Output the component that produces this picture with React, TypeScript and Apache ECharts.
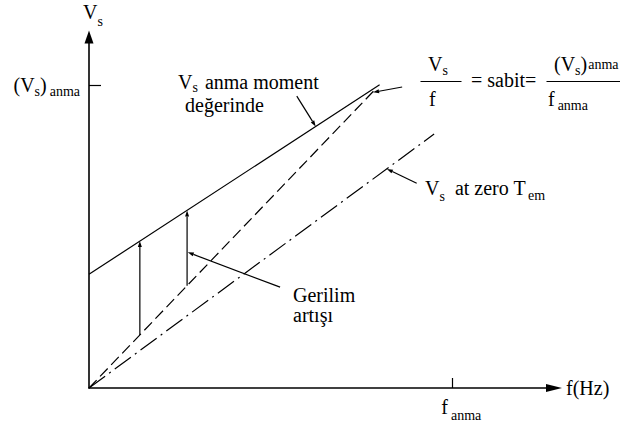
import React, { useEffect, useRef } from 'react';
import * as echarts from 'echarts';

// Rated operating point and axis extents (f in Hz, Vs in V)
const F_ANMA = 50;
const VS_ANMA = 400;
const F_MAX = 64;
const VS_MAX = 463;

// Stator voltage characteristics: [f, Vs]
const ratedTorqueLine = [[0, 150], [40, 400]]; // Vs at rated torque (with boost)
const constantVfLine = [[0, 0], [39.5, 395]]; // Vs / f = constant
const zeroTorqueLine = [[0, 0], [47.5, 335]]; // Vs at zero Tem

// Voltage boost arrows: frequency, from Vs, to Vs
const boostFreqs = [7, 13.5];
const boostFrom = [70, 135];
const boostTo = [194, 234];

// Leader lines [f1, Vs1, f2, Vs2] (arrow at the second point)
const leaderRated = [28.6, 385, 31.2, 345];
const leaderRatio = [43.1, 397, 39.1, 390];
const leaderZero = [45.1, 270, 41.0, 289];
const leaderBoost = [26.3, 133, 13.6, 179];

const FONT = 'Liberation Serif';
const MAIN = 20; // main text size
const SUB = 14; // subscript size

// [text, fontSize, vertical shift, gap before]
type Part = [string, number, number, number?];

let measureCtx: CanvasRenderingContext2D | null = null;
const textWidth = (s: string, size: number) => {
  if (!measureCtx) measureCtx = document.createElement('canvas').getContext('2d');
  if (!measureCtx) return s.length * size * 0.5;
  measureCtx.font = `${size}px "${FONT}", serif`;
  return measureCtx.measureText(s).width;
};

const runWidth = (parts: Part[]) =>
  parts.reduce((w, [t, size, , gap = 0]) => w + gap + textWidth(t, size), 0);

// Lays out a run of text pieces (with subscripts) from a left x and a centre y
const run = (x: number, y: number, parts: Part[]) => {
  let cx = x;
  return parts.map(([t, size, dy, gap = 0]) => {
    cx += gap;
    const el = {
      type: 'text',
      x: cx,
      y: y + dy,
      silent: true,
      style: {
        text: t,
        fontFamily: FONT,
        fontSize: size,
        fill: '#000',
        align: 'left',
        verticalAlign: 'middle',
      },
    };
    cx += textWidth(t, size);
    return el;
  });
};

const bar = (x1: number, x2: number, y: number) => ({
  type: 'line',
  silent: true,
  shape: { x1, y1: y, x2, y2: y },
  style: { stroke: '#000', lineWidth: 1.2 },
});

export default function App() {
  const ref = useRef<HTMLDivElement>(null);

  useEffect(() => {
    document.body.style.margin = '0';
    if (!ref.current) return;
    const chart = echarts.init(ref.current, null, { renderer: 'svg' });

    const arrowData = [
      ...boostFreqs.map((f, i) => [f, boostFrom[i], f, boostTo[i]]),
      leaderRated,
      leaderRatio,
      leaderZero,
      leaderBoost,
    ];

    const lineStyleBase = { color: '#000', width: 1.2 };

    const axisCommon = {
      type: 'value',
      axisLabel: { show: false },
      splitLine: { show: false },
    };

    chart.setOption({
      animation: false,
      backgroundColor: '#fff',
      grid: {
        left: 89,
        bottom: 40,
        width: 465,
        height: 351,
        containLabel: false,
        outerBoundsMode: 'none',
      },
      xAxis: {
        ...axisCommon,
        min: 0,
        max: F_MAX,
        axisLine: {
          show: true,
          onZero: false,
          symbol: ['none', 'triangle'],
          symbolSize: [8, 16],
          lineStyle: { color: '#000', width: 1.6 },
        },
        axisTick: {
          show: true,
          inside: true,
          length: 10,
          customValues: [F_ANMA],
          lineStyle: { color: '#000', width: 1.2 },
        },
      },
      yAxis: {
        ...axisCommon,
        min: 0,
        max: VS_MAX,
        axisLine: {
          show: true,
          onZero: false,
          symbol: ['none', 'triangle'],
          symbolSize: [9, 13],
          lineStyle: { color: '#000', width: 1.6 },
        },
        axisTick: {
          show: true,
          inside: true,
          length: 12,
          customValues: [VS_ANMA],
          lineStyle: { color: '#000', width: 1.2 },
        },
      },
      series: [
        {
          type: 'line',
          data: ratedTorqueLine,
          symbol: 'none',
          silent: true,
          lineStyle: { ...lineStyleBase, type: 'solid' },
        },
        {
          type: 'line',
          data: constantVfLine,
          symbol: 'none',
          silent: true,
          lineStyle: { ...lineStyleBase, type: [11, 5] },
        },
        {
          type: 'line',
          data: zeroTorqueLine,
          symbol: 'none',
          silent: true,
          lineStyle: { ...lineStyleBase, type: [20, 5, 2, 5] },
        },
        {
          type: 'custom',
          silent: true,
          clip: false,
          encode: { x: [0, 2], y: [1, 3] },
          data: arrowData,
          renderItem: (params: any, api: any) => {
            const p1 = api.coord([api.value(0), api.value(1)]);
            const p2 = api.coord([api.value(2), api.value(3)]);
            const dx = p2[0] - p1[0];
            const dy = p2[1] - p1[1];
            const len = Math.hypot(dx, dy) || 1;
            const ux = dx / len;
            const uy = dy / len;
            const L = 6;
            const W = 2;
            const bx = p2[0] - ux * L;
            const by = p2[1] - uy * L;
            return {
              type: 'group',
              children: [
                {
                  type: 'line',
                  shape: { x1: p1[0], y1: p1[1], x2: bx, y2: by },
                  style: { stroke: '#000', lineWidth: 1.2 },
                },
                {
                  type: 'polygon',
                  shape: {
                    points: [
                      [p2[0], p2[1]],
                      [bx - uy * W, by + ux * W],
                      [bx + uy * W, by - ux * W],
                    ],
                  },
                  style: { fill: '#000' },
                },
              ],
            };
          },
        },
      ],
    } as any);

    // Axis-anchored labels: positions come from the axes' own scales
    const origin = chart.convertToPixel({ gridIndex: 0 }, [0, 0]) as number[];
    const fTick = chart.convertToPixel({ gridIndex: 0 }, [F_ANMA, 0]) as number[];
    const vTick = chart.convertToPixel({ gridIndex: 0 }, [0, VS_ANMA]) as number[];
    const xEnd = chart.convertToPixel({ gridIndex: 0 }, [F_MAX, 0]) as number[];
    const yEnd = chart.convertToPixel({ gridIndex: 0 }, [0, VS_MAX]) as number[];

    const vsAnmaLabel: Part[] = [
      ['(V', MAIN, 0],
      ['s', SUB, 7],
      [')', MAIN, 0],
      ['anma', SUB, 7, 3],
    ];
    const fAnmaLabel: Part[] = [
      ['f', MAIN, 0],
      ['anma', SUB, 9, 3],
    ];

    chart.setOption({
      graphic: [
        // axis names
        ...run(origin[0] - 6, yEnd[1] - 25, [
          ['V', MAIN, 0],
          ['s', SUB, 9],
        ]),
        ...run(xEnd[0] + 12, xEnd[1], [['f(Hz)', MAIN, 0]]),
        // rated value labels
        ...run(vTick[0] - 9 - runWidth(vsAnmaLabel), vTick[1], vsAnmaLabel),
        ...run(fTick[0] - 11, fTick[1] + 18.5, fAnmaLabel),
        // curve annotations
        ...run(178, 81.5, [
          ['V', MAIN, 0],
          ['s', SUB, 6],
          ['anma moment', MAIN, 0, 7],
        ]),
        ...run(185, 105, [['değerinde', MAIN, 0]]),
        ...run(425, 188, [
          ['V', MAIN, 0],
          ['s', SUB, 8],
          ['at zero T', MAIN, 0, 10],
          ['em', SUB, 7, 2],
        ]),
        ...run(293, 295, [['Gerilim', MAIN, 0]]),
        ...run(293, 315, [['artışı', MAIN, 0]]),
        // Vs / f = sabit = (Vs)anma / fanma
        ...run(428, 64, [
          ['V', MAIN, 0],
          ['s', SUB, 6],
        ]),
        bar(420.5, 461.5, 81.5),
        ...run(429, 98.5, [['f', MAIN, 0]]),
        ...run(471, 79.5, [['= sabit=', MAIN, 0]]),
        ...run(554, 64, [
          ['(V', MAIN, 0],
          ['s', SUB, 6],
          [')', MAIN, 0],
          ['anma', SUB, 0, 1],
        ]),
        bar(546.5, 620, 81.5),
        ...run(548, 98.5, [
          ['f', MAIN, 0],
          ['anma', SUB, 7, 3],
        ]),
      ],
    } as any);

    return () => chart.dispose();
  }, []);

  return <div ref={ref} style={{ width: 629, height: 428 }} />;
}
